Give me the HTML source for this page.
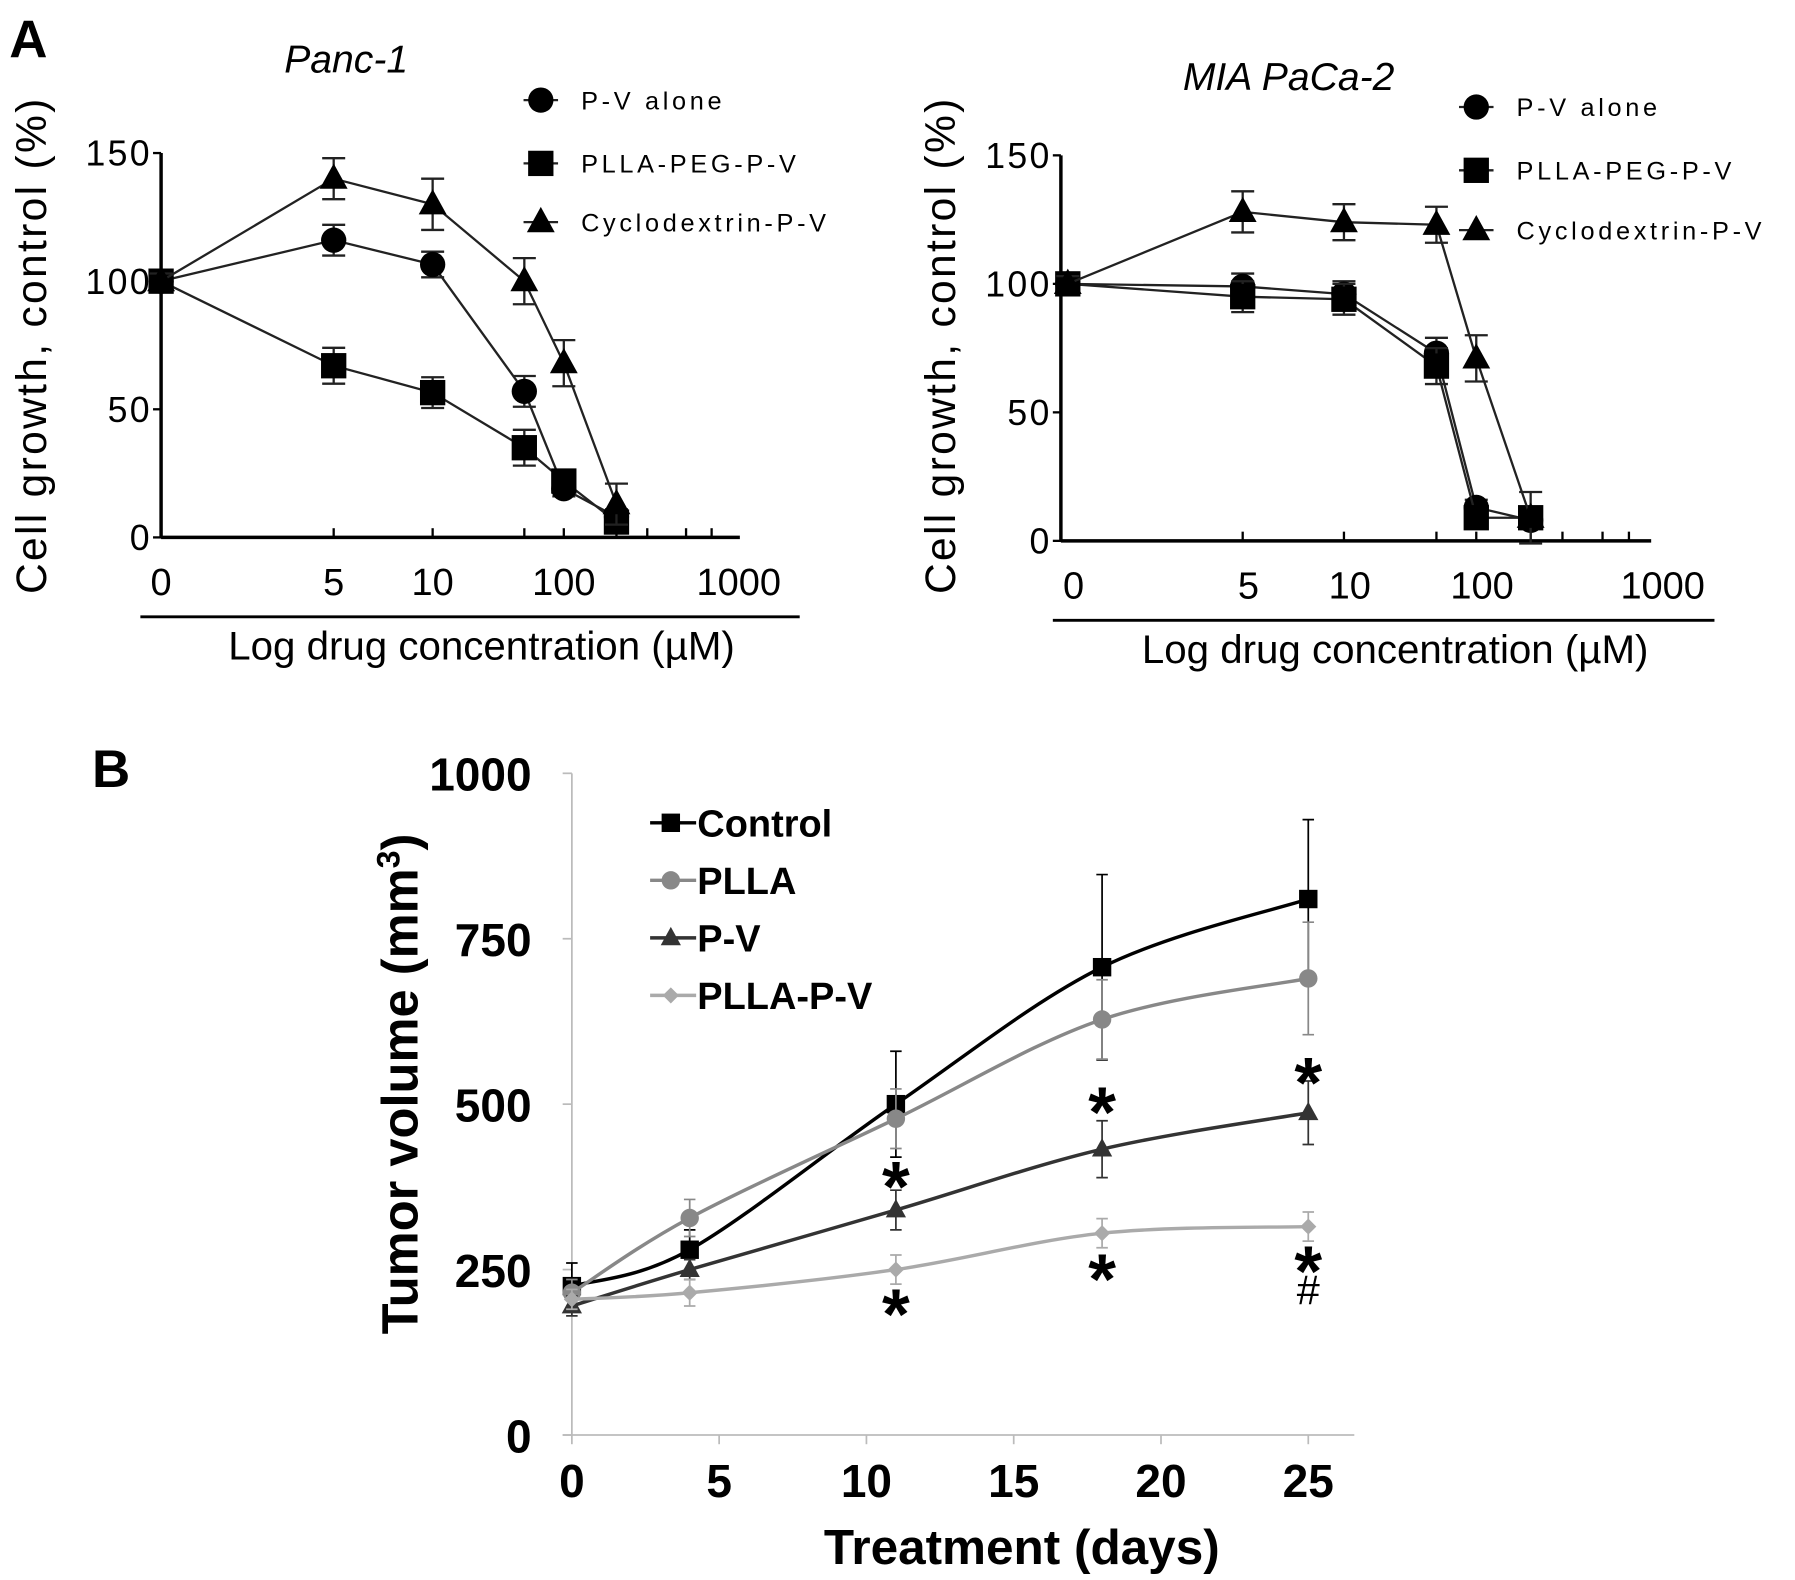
<!DOCTYPE html>
<html><head><meta charset="utf-8"><style>
html,body{margin:0;padding:0;background:#fff}
svg{display:block}
text{font-family:"Liberation Sans",Arial,sans-serif}
</style></head><body>
<svg id="fig" width="1795" height="1580" viewBox="0 0 1560 1373" preserveAspectRatio="none" xmlns="http://www.w3.org/2000/svg">
<text x="8" y="50" font-size="46" font-weight="bold">A</text>
<text x="80" y="684" font-size="46" font-weight="bold">B</text>
<g id="pa"></g>
<g id="pb"></g>
</svg>
<script>
// ---------- Panel A data ----------
const concs = [0, 5, 10, 50, 100, 200];
const xTickLabels = ["0", "5", "10", "100", "1000"];
const xTickVals = [0, 5, 10, 100, 1000];
const yTickValsA = [0, 50, 100, 150];
const seriesNamesA = ["P-V alone", "PLLA-PEG-P-V", "Cyclodextrin-P-V"];
const panc_pv = [100, 116, 106.5, 57, 19, 8];
const panc_plla = [100, 67, 56.5, 35, 22, 6];
const panc_cyc = [100, 140, 130, 100, 68, 13];
const panc_pv_err = [3, 6, 5, 6, 3, 3];
const panc_plla_err = [3, 7, 6, 7, 3, 3];
const panc_cyc_err = [3, 8, 10, 9, 9, 8];
const mia_pv = [100, 99, 96, 73, 13, 8];
const mia_plla = [100, 95, 94, 68, 9, 9];
const mia_cyc = [100, 128, 124, 123, 71, 9];
const mia_pv_err = [3, 5, 5, 6, 3, 3];
const mia_plla_err = [3, 6, 6, 7, 3, 3];
const mia_cyc_err = [3, 8, 7, 7, 9, 10];

// ---------- Panel B data ----------
const days = [0, 4, 11, 18, 25];
const seriesNamesB = ["Control", "PLLA", "P-V", "PLLA-P-V"];
const ctrl = [225, 280, 500, 707, 810];
const plla = [215, 328, 478, 628, 690];
const pv = [195, 250, 340, 432, 487];
const pllapv = [205, 215, 250, 305, 315];
const ctrl_err = [35, 30, 80, 140, 120];
const plla_err = [20, 28, 45, 60, 85];
const pv_err = [15, 15, 30, 43, 48];
const pllapv_err = [15, 20, 22, 22, 22];
const yTicksB = [0, 250, 500, 750, 1000];
const xTicksB = [0, 5, 10, 15, 20, 25];

const NS = "http://www.w3.org/2000/svg";
function mk(parent, tag, attrs, txt) {
  const e = document.createElementNS(NS, tag);
  for (const k in attrs) e.setAttribute(k, attrs[k]);
  if (txt !== undefined) e.textContent = txt;
  parent.appendChild(e);
  return e;
}

function marker(g, shape, x, y, s, fill) {
  let e;
  if (shape === "circle") e = mk(g, "circle", {cx: x, cy: y, r: s, fill: fill});
  else if (shape === "square") e = mk(g, "rect", {x: x - s, y: y - s, width: 2 * s, height: 2 * s, fill: fill});
  else if (shape === "triangle") e = mk(g, "polygon", {points: `${x},${y - s * 1.2} ${x - s * 1.1},${y + s * 0.8} ${x + s * 1.1},${y + s * 0.8}`, fill: fill});
  else e = mk(g, "polygon", {points: `${x},${y - s} ${x + s},${y} ${x},${y + s} ${x - s},${y}`, fill: fill});
  return e;
}

// ---------- Panel A ----------
function panelA(cfg) {
  const g = mk(document.getElementById("pa"), "g", {});
  
  
  const tickPos = cfg.tickPos;
  function xs(c) {
    if (c <= 0) return tickPos[0];
    for (let i = 1; i < xTickVals.length - 1; i++) {
      const a = xTickVals[i], b = xTickVals[i + 1];
      if (c <= b) {
        const f = (Math.log10(c) - Math.log10(a)) / (Math.log10(b) - Math.log10(a));
        return tickPos[i] + f * (tickPos[i + 1] - tickPos[i]);
      }
    }
    return tickPos[tickPos.length - 1];
  }
  function ys(v) { return cfg.y0 - v / 150 * (cfg.y0 - cfg.y150); }
  const ax = mk(g, "line", {x1: cfg.ax, y1: ys(150), x2: cfg.ax, y2: cfg.y0 + 1, stroke: "#000", "stroke-width": 3});
  
  
  const xa = mk(g, "line", {x1: cfg.ax, y1: cfg.y0, x2: cfg.axEnd, y2: cfg.y0, stroke: "#000", "stroke-width": 3});
  
  
  yTickValsA.forEach(v => {
    mk(g, "line", {x1: cfg.ax - 7, y1: ys(v), x2: cfg.ax, y2: ys(v), stroke: "#000", "stroke-width": 2});
    const t = mk(g, "text", {x: cfg.ax - 8, y: ys(v) + 11, "font-size": 31, "text-anchor": "end", "letter-spacing": 2}, String(v));
    
    
  });
  concs.slice(1).concat([300, 500, 700]).forEach(c => {
    mk(g, "line", {x1: xs(c), y1: cfg.y0 - 8, x2: xs(c), y2: cfg.y0, stroke: "#000", "stroke-width": 2});
  });
  xTickVals.forEach((v, i) => {
    const t = mk(g, "text", {x: tickPos[i] + cfg.lblOff, y: cfg.y0 + 50, "font-size": 33, "text-anchor": "middle"}, xTickLabels[i]);
    
    
  });
  const ul = mk(g, "line", {x1: cfg.ulx1, y1: cfg.y0 + 69, x2: cfg.ulx2, y2: cfg.y0 + 69, stroke: "#000", "stroke-width": 2.5});
  
  
  const xt = mk(g, "text", {x: (cfg.ulx1 + cfg.ulx2) / 2 + 10, y: cfg.y0 + 106, "font-size": 35, "text-anchor": "middle"}, "Log drug concentration (µM)");
  
  
  const yt = mk(g, "text", {x: 0, y: 0, "font-size": 37, "text-anchor": "middle", "letter-spacing": 2, transform: `translate(${cfg.ytx},${cfg.yty}) rotate(-90)`}, "Cell growth, control (%)");
  
  
  const tt = mk(g, "text", {x: cfg.tx, y: cfg.ty, "font-size": 34, "font-style": "italic"}, cfg.title);
  
  
  const shapes = ["circle", "square", "triangle"];
  cfg.series.forEach((vals, si) => {
    const sg = mk(g, "g", {});
    
    
    const pts = vals.map((v, i) => `${xs(concs[i])},${ys(v)}`).join(" ");
    mk(sg, "polyline", {points: pts, fill: "none", stroke: "#222", "stroke-width": 2});
    vals.forEach((v, i) => {
      const e = cfg.errs[si][i], x = xs(concs[i]);
      mk(sg, "path", {d: `M${x},${ys(v - e)}V${ys(v + e)}M${x - 10},${ys(v + e)}h20M${x - 10},${ys(v - e)}h20`, stroke: "#222", "stroke-width": 2, fill: "none"});
      const m = marker(sg, shapes[si], x, ys(v), 11, "#000");
      
      
    });
  });
  seriesNamesA.forEach((n, i) => {
    const lg = mk(g, "g", {});
    
    
    const y = cfg.legY[i];
    mk(lg, "line", {x1: cfg.legX - 15, y1: y, x2: cfg.legX + 15, y2: y, stroke: "#222", "stroke-width": 2});
    marker(lg, shapes[i], cfg.legX, y, 11, "#000");
    mk(lg, "text", {x: cfg.legX + 35, y: y + 8, "font-size": 22, "letter-spacing": 3.2}, n);
  });
}

panelA({name: "panc-1-chart", title: "Panc-1", tx: 247, ty: 63, ax: 140, axEnd: 643, y0: 467, y150: 133,
  tickPos: [140, 290, 376, 490, 642], lblOff: 0, ulx1: 122, ulx2: 695, ytx: 40, yty: 300,
  series: [panc_pv, panc_plla, panc_cyc], errs: [panc_pv_err, panc_plla_err, panc_cyc_err],
  legX: 470, legY: [87, 142, 193]});
panelA({name: "mia-paca-2-chart", title: "MIA PaCa-2", tx: 1028, ty: 78, ax: 922, axEnd: 1435, y0: 470, y150: 135,
  tickPos: [928, 1080, 1168, 1283, 1440], lblOff: 5, ulx1: 915, ulx2: 1490, ytx: 830, yty: 300,
  series: [mia_pv, mia_plla, mia_cyc], errs: [mia_pv_err, mia_plla_err, mia_cyc_err],
  legX: 1283, legY: [93, 148, 200]});

// ---------- Panel B ----------
(function () {
  const g = mk(document.getElementById("pb"), "g", {});
  
  
  const X0 = 497, X25 = 1137, Y0 = 1247, Y1000 = 672;
  const xs = d => X0 + d / 25 * (X25 - X0);
  const ys = v => Y0 - v / 1000 * (Y0 - Y1000);
  const ya = mk(g, "line", {x1: X0, y1: ys(1000), x2: X0, y2: Y0, stroke: "#bbb", "stroke-width": 1.5});
  
  
  const xa = mk(g, "line", {x1: X0 - 8, y1: Y0, x2: 1177, y2: Y0, stroke: "#bbb", "stroke-width": 1.5});
  
  
  yTicksB.forEach(v => {
    mk(g, "line", {x1: X0 - 8, y1: ys(v), x2: X0, y2: ys(v), stroke: "#bbb", "stroke-width": 1.5});
    const t = mk(g, "text", {x: 462, y: ys(v) + 15, "font-size": 40, "font-weight": "bold", "text-anchor": "end"}, String(v));
    
    
  });
  xTicksB.forEach(v => {
    mk(g, "line", {x1: xs(v), y1: Y0, x2: xs(v), y2: Y0 + 8, stroke: "#bbb", "stroke-width": 1.5});
    const t = mk(g, "text", {x: xs(v), y: 1301, "font-size": 40, "font-weight": "bold", "text-anchor": "middle"}, String(v));
    
    
  });
  const xt = mk(g, "text", {x: 888, y: 1359, "font-size": 43, "font-weight": "bold", "text-anchor": "middle"}, "Treatment (days)");
  
  
  const yt = mk(g, "text", {x: 0, y: 0, "font-size": 44, "font-weight": "bold", "text-anchor": "middle", transform: "translate(363,942) rotate(-90)"});
  
  
  mk(yt, "tspan", {}, "Tumor volume (mm");
  mk(yt, "tspan", {"baseline-shift": "super", "font-size": 28}, "3");
  mk(yt, "tspan", {}, ")");

  const colors = ["#000", "#888", "#333", "#aaa"];
  const shapes = ["square", "circle", "triangle", "diamond"];
  const sizes = [8, 8, 8, 7];
  const data = [ctrl, plla, pv, pllapv];
  const errs = [ctrl_err, plla_err, pv_err, pllapv_err];
  function smooth(p) {
    let d = `M${p[0][0]},${p[0][1]}`;
    for (let i = 0; i < p.length - 1; i++) {
      const p0 = p[i - 1] || p[i], p1 = p[i], p2 = p[i + 1], p3 = p[i + 2] || p2;
      const c1 = [p1[0] + (p2[0] - p0[0]) / 6, p1[1] + (p2[1] - p0[1]) / 6];
      const c2 = [p2[0] - (p3[0] - p1[0]) / 6, p2[1] - (p3[1] - p1[1]) / 6];
      d += `C${c1[0]},${c1[1]} ${c2[0]},${c2[1]} ${p2[0]},${p2[1]}`;
    }
    return d;
  }
  data.forEach((vals, si) => {
    const sg = mk(g, "g", {});
    
    
    vals.forEach((v, i) => {
      const x = xs(days[i]), e = errs[si][i];
      mk(sg, "path", {d: `M${x},${ys(v - e)}V${ys(v + e)}M${x - 5},${ys(v + e)}h10M${x - 5},${ys(v - e)}h10`, stroke: colors[si], "stroke-width": 1.5, fill: "none"});
    });
    const pts = vals.map((v, i) => [xs(days[i]), ys(v)]);
    mk(sg, "path", {d: smooth(pts), fill: "none", stroke: colors[si], "stroke-width": 3});
    vals.forEach((v, i) => {
      const m = marker(sg, shapes[si], xs(days[i]), ys(v), sizes[si], colors[si]);
      
      
    });
  });
  seriesNamesB.forEach((n, i) => {
    const lg = mk(g, "g", {});
    
    
    const y = 715 + i * 50;
    mk(lg, "line", {x1: 565, y1: y, x2: 605, y2: y, stroke: colors[i], "stroke-width": 3});
    marker(lg, shapes[i], 583, y, sizes[i], colors[i]);
    mk(lg, "text", {x: 606, y: y + 12, "font-size": 33, "font-weight": "bold"}, n);
  });
  const sigDays = [11, 18, 25, 11, 18, 25, 25];
  const sigVals = [398, 510, 555, 205, 258, 270, 218];
  const sigText = ["*", "*", "*", "*", "*", "*", "#"];
  sigDays.forEach((d, i) => {
    const star = sigText[i] === "*";
    const t = mk(g, "text", {x: xs(d), y: ys(sigVals[i]) + (star ? 34 : 12), "font-size": star ? 62 : 36, "font-weight": star ? "bold" : "normal", "text-anchor": "middle"}, sigText[i]);
    
    
  });
})();
</script>
</body></html>
